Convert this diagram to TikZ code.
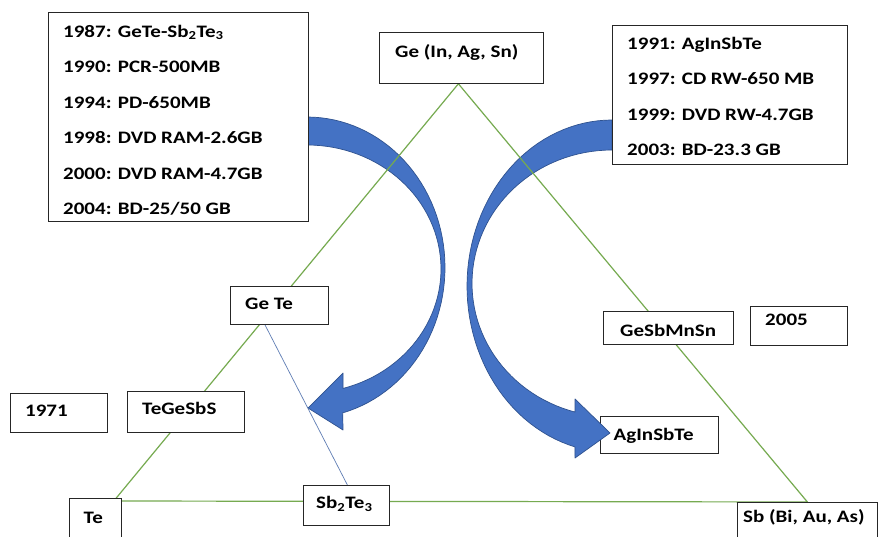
\documentclass[tikz,border=0pt]{standalone}
\usepackage{fontspec}
\setmainfont{Carlito}[FakeStretch=1.2]
\usetikzlibrary{calc}
\definecolor{arrowfill}{RGB}{68,114,196}
\definecolor{arrowedge}{RGB}{47,82,143}
\definecolor{tieline}{RGB}{118,170,80}
\definecolor{thinblue}{RGB}{95,125,180}
\pgfdeclarelayer{bottom}
\pgfdeclarelayer{arrows}
\pgfdeclarelayer{lines}
\pgfsetlayers{bottom,arrows,lines,main}
\tikzset{
  panel/.style={draw=black!85, line width=0.8pt, fill=white, inner sep=0pt, anchor=north west},
  lbl/.style={font=\fontsize{17.5}{20}\selectfont\bfseries, inner sep=0pt, anchor=base west},
  blockarrow/.style={fill=arrowfill, draw=arrowedge, line width=0.7pt, line join=round},
  triedge/.style={draw=tieline, line width=1.2pt},
  tieln/.style={draw=thinblue, line width=0.7pt},
}
\begin{document}
\begin{tikzpicture}[x=1pt,y=-1pt]
\useasboundingbox (0,0) rectangle (878,537);
\clip (0,0) rectangle (878,537);
\begin{pgfonlayer}{bottom}
  \fill[white] (0,0) rectangle (878,537);
\end{pgfonlayer}

% timeline panels
\node[panel, minimum width=260pt, minimum height=209pt] (tl) at (48,12) {};
\foreach \t [count=\i from 0] in {{1987: GeTe-Sb\textsubscript{2}Te\textsubscript{3}},
    {1990: PCR-500MB}, {1994: PD-650MB}, {1998: DVD RAM-2.6GB},
    {2000: DVD RAM-4.7GB}, {2004: BD-25/50 GB}}
  \node[lbl] (tl\i) at (63,{37.3+35.5*\i}) {\t};

\node[panel, minimum width=235pt, minimum height=139pt] (tr) at (612,25) {};
\foreach \t [count=\i from 0] in {{1991: AgInSbTe}, {1997: CD RW-650 MB},
    {1999: DVD RW-4.7GB}, {2003: BD-23.3 GB}}
  \node[lbl] (tr\i) at (627,{49.5+35.3*\i}) {\t};

% composition boxes
\node[panel, minimum width=164pt, minimum height=51pt] (ge) at (379,32) {};
\node[lbl] (ge-t) at (395,57.5) {Ge (In, Ag, Sn)};

\node[panel, minimum width=98pt, minimum height=38pt] (gete) at (230,286) {};
\node[lbl] (gete-t) at (245,309.5) {Ge Te};

\node[panel, minimum width=97pt, minimum height=39pt] (y1971) at (10,393) {};
\node[lbl] (y1971-t) at (25,416.5) {1971};

\node[panel, minimum width=117pt, minimum height=41pt] (tgss) at (127,391) {};
\node[lbl] (tgss-t) at (142,414) {TeGeSbS};

\node[panel, minimum width=52pt, minimum height=50pt] (te) at (69,498) {};
\node[lbl] (te-t) at (83.5,523) {Te};

\node[panel, minimum width=86pt, minimum height=40pt] (sbte) at (303,485) {};
\node[lbl] (sbte-t) at (316,508.5) {Sb\textsubscript{2}Te\textsubscript{3}};

\node[panel, minimum width=130pt, minimum height=33pt] (gsms) at (603,311) {};
\node[lbl] (gsms-t) at (620,337) {GeSbMnSn};

\node[panel, minimum width=97pt, minimum height=39pt] (y2005) at (750,306) {};
\node[lbl] (y2005-t) at (765,326) {2005};

\node[panel, minimum width=140pt, minimum height=50pt] (sb) at (737,502) {};
\node[lbl] (sb-t) at (743,522) {Sb (Bi, Au, As)};

\begin{pgfonlayer}{bottom}
  \node[panel, minimum width=118pt, minimum height=37pt] (aist) at (600,416) {};
\end{pgfonlayer}
\node[lbl] (aist-t) at (613.5,440) {AgInSbTe};

% curved block arrows
\begin{pgfonlayer}{arrows}
  \path[blockarrow]
    plot[domain=90:-75, samples=60] ({307+138*cos(\x)},{267.5-150.5*sin(\x)})
    -- (343,430) -- (308,408) -- (343,373)
    -- plot[domain=-74.4:90, samples=60] ({307+134*cos(\x)},{269-124*sin(\x)})
    -- cycle;
  \path[blockarrow]
    plot[domain=90:255.2, samples=60] ({612+145*cos(\x)},{286.2-166.2*sin(\x)})
    -- (575,458) -- (610,433) -- (575,399)
    -- plot[domain=254.7:90, samples=60] ({612+140*cos(\x)},{283.4-133.4*sin(\x)})
    -- cycle;
\end{pgfonlayer}

% ternary triangle and tie line
\begin{pgfonlayer}{lines}
  \coordinate (apex) at ($(ge.south)+(-3,0)$);
  \coordinate (lv) at ($(te.north east)+(-8,3)$);
  \coordinate (rv) at (sb.north);
  \draw[triedge] (apex) -- (lv) -- (rv) -- cycle;
  \draw[tieln] ($(gete.south)+(-16,-3)$) -- ($(sbte.north)+(1,0)$);
\end{pgfonlayer}
\end{tikzpicture}
\end{document}
